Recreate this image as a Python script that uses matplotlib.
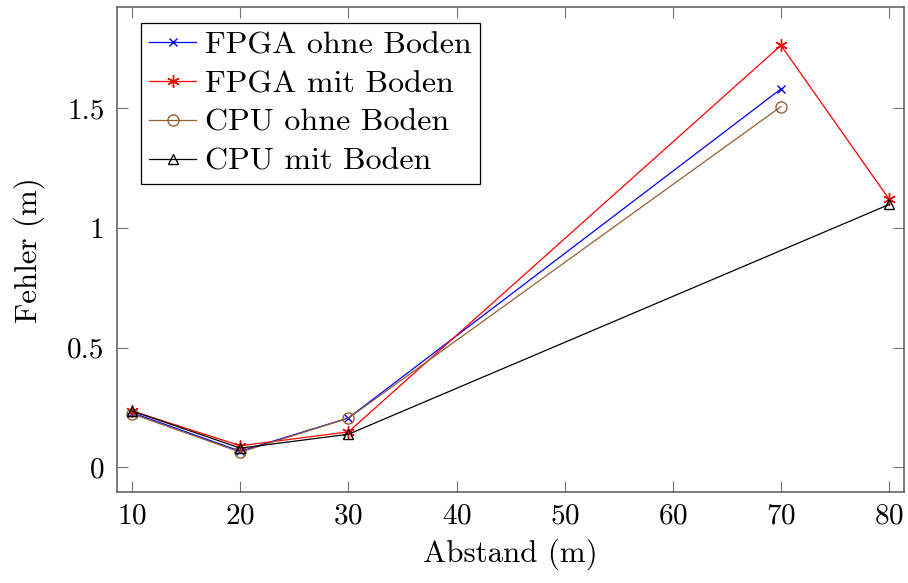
import numpy as np
import matplotlib
matplotlib.use('Agg')
import matplotlib.pyplot as plt
from matplotlib.ticker import FuncFormatter

plt.rcParams['font.family'] = ['cmr10', 'DejaVu Serif']
plt.rcParams['axes.formatter.use_mathtext'] = True
plt.rcParams['mathtext.fontset'] = 'cm'

# Messwerte
abstand_fpga_ohne = [10, 20, 30, 70]
fehler_fpga_ohne = [0.228, 0.067, 0.206, 1.581]

abstand_fpga_mit = [10, 20, 30, 70, 80]
fehler_fpga_mit = [0.235, 0.090, 0.148, 1.763, 1.120]

abstand_cpu_ohne = [10, 20, 30, 70]
fehler_cpu_ohne = [0.223, 0.063, 0.205, 1.507]

abstand_cpu_mit = [10, 20, 30, 80]
fehler_cpu_mit = [0.235, 0.080, 0.138, 1.098]

xticks = [10, 20, 30, 40, 50, 60, 70, 80]
yticks = [0, 0.5, 1, 1.5]

fig = plt.figure(figsize=(9.08, 5.83), dpi=100)
ax = fig.add_axes([0.1289, 0.1556, 0.9959 - 0.1289, 0.9875 - 0.1556])

lw = 0.9
brown = (0.58, 0.38, 0.2)
ax.plot(abstand_fpga_ohne, fehler_fpga_ohne, color='blue', lw=lw, marker='x',
        ms=6, mew=1.0, label='FPGA ohne Boden')
ax.plot(abstand_fpga_mit, fehler_fpga_mit, color='red', lw=lw, marker=(6, 2, 0),
        ms=9, mew=1.0, label='FPGA mit Boden')
ax.plot(abstand_cpu_ohne, fehler_cpu_ohne, color=brown, lw=lw, marker='o',
        ms=8, mew=1.0, mfc='none', label='CPU ohne Boden')
ax.plot(abstand_cpu_mit, fehler_cpu_mit, color='black', lw=lw, marker='^',
        ms=7, mew=1.0, mfc='none', label='CPU mit Boden')

ax.set_xlim(8.6, 81.4)
ax.set_ylim(-0.1045, 1.922)
ax.set_xticks(xticks)
ax.set_yticks(yticks)
ax.yaxis.set_major_formatter(FuncFormatter(lambda v, p: '%g' % v))

ax.tick_params(direction='in', length=8, width=0.8, color='0.45', labelsize=21,
               top=True, right=True)
ax.tick_params(axis='x', pad=8)
ax.tick_params(axis='y', pad=9)
for s in ax.spines.values():
    s.set_color('0.35')
    s.set_linewidth(1.1)

ax.set_xlabel('Abstand (m)', fontsize=22.3, labelpad=6)
ax.set_ylabel('Fehler (m)', fontsize=22.3, labelpad=16)

leg = ax.legend(loc='upper left', fontsize=23, frameon=True, fancybox=False,
                edgecolor='black', framealpha=1, borderpad=0.25, labelspacing=0.33,
                handlelength=1.45, handletextpad=0.3, borderaxespad=0.0,
                bbox_to_anchor=(0.031, 0.968))
leg.get_frame().set_linewidth(0.9)

fig.savefig('out.png', dpi=100)
